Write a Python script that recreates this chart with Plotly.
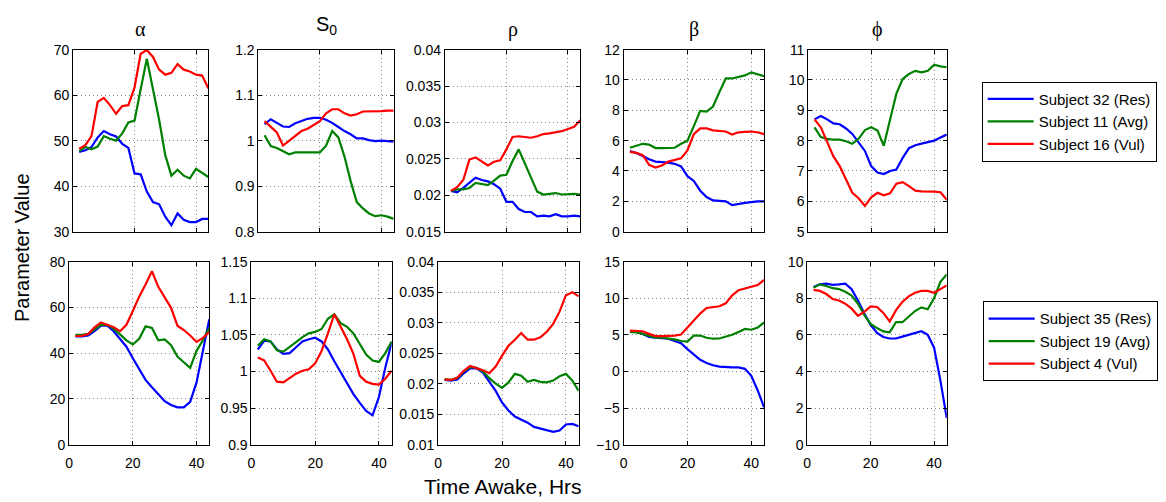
import plotly.graph_objects as go

W, H = 1166, 502

hours = [2, 4, 6, 8, 10, 12, 14, 16, 18, 20, 22, 24, 26, 28, 30, 32, 34, 36, 38, 40, 42, 44]

# ---- top row: Subject 32 (Res), Subject 11 (Avg), Subject 16 (Vul)
alpha_top_res = [47.5, 47.9, 48.6, 50.7, 52.1, 51.4, 50.9, 49.3, 48.4, 42.8, 42.6, 38.8, 36.5, 36.0, 33.3, 31.4, 34.0, 32.6, 32.1, 32.1, 32.8, 32.8]
alpha_top_avg = [47.7, 48.6, 48.1, 48.7, 51.0, 50.4, 50.0, 51.6, 54.0, 54.4, 61.3, 68.0, 61.3, 54.6, 46.8, 42.3, 43.6, 42.3, 41.7, 43.8, 42.9, 42.0]
alpha_top_vul = [48.2, 49.0, 51.0, 58.5, 59.4, 57.8, 55.9, 57.6, 57.8, 61.7, 69.1, 69.9, 68.4, 65.6, 64.5, 64.9, 66.8, 65.6, 65.2, 64.5, 64.3, 61.5]

s0_top_res = [1.036, 1.047, 1.039, 1.031, 1.030, 1.038, 1.043, 1.048, 1.050, 1.050, 1.046, 1.039, 1.030, 1.021, 1.014, 1.005, 1.005, 1.001, 0.999, 1.000, 0.999, 0.998]
s0_top_avg = [1.012, 0.988, 0.984, 0.977, 0.970, 0.974, 0.974, 0.973, 0.973, 0.974, 0.989, 1.021, 1.007, 0.965, 0.911, 0.865, 0.851, 0.840, 0.834, 0.836, 0.833, 0.828]
s0_top_vul = [1.043, 1.030, 1.018, 0.989, 1.000, 1.011, 1.021, 1.026, 1.034, 1.043, 1.060, 1.069, 1.069, 1.060, 1.055, 1.058, 1.064, 1.064, 1.065, 1.065, 1.066, 1.066]

rho_top_res = [0.0206, 0.0204, 0.0210, 0.0217, 0.0224, 0.0221, 0.0219, 0.0215, 0.0209, 0.0191, 0.0191, 0.0181, 0.0177, 0.0177, 0.0171, 0.0172, 0.0171, 0.0174, 0.0171, 0.0171, 0.0172, 0.0171]
rho_top_avg = [0.0206, 0.0208, 0.0208, 0.0210, 0.0217, 0.0215, 0.0214, 0.0220, 0.0227, 0.0228, 0.0247, 0.0263, 0.0243, 0.0223, 0.0205, 0.0201, 0.0202, 0.0203, 0.0201, 0.0202, 0.0202, 0.0201]
rho_top_vul = [0.0206, 0.0211, 0.0221, 0.0249, 0.0252, 0.0246, 0.0241, 0.0246, 0.0248, 0.0263, 0.0280, 0.0281, 0.0280, 0.0279, 0.0281, 0.0284, 0.0285, 0.0286, 0.0288, 0.0291, 0.0294, 0.0303]

beta_top_res = [5.32, 5.19, 4.98, 4.77, 4.62, 4.60, 4.55, 4.47, 4.30, 3.66, 3.34, 2.70, 2.28, 2.06, 2.02, 2.00, 1.75, 1.85, 1.90, 1.95, 2.00, 2.00]
beta_top_avg = [5.53, 5.68, 5.79, 5.74, 5.51, 5.51, 5.51, 5.53, 5.79, 6.00, 6.96, 7.96, 7.91, 8.25, 9.20, 10.10, 10.10, 10.20, 10.30, 10.50, 10.40, 10.25]
beta_top_vul = [5.26, 5.19, 5.04, 4.40, 4.23, 4.36, 4.62, 4.72, 4.83, 5.36, 6.43, 6.81, 6.81, 6.68, 6.65, 6.60, 6.40, 6.55, 6.58, 6.60, 6.55, 6.43]

phi_top_res = [8.70, 8.81, 8.70, 8.57, 8.54, 8.40, 8.22, 7.96, 7.66, 7.16, 6.95, 6.90, 7.00, 7.05, 7.43, 7.75, 7.85, 7.90, 7.95, 8.00, 8.10, 8.20]
phi_top_avg = [8.44, 8.12, 8.06, 8.03, 8.03, 7.98, 7.90, 8.06, 8.35, 8.44, 8.33, 7.83, 8.70, 9.55, 10.03, 10.20, 10.30, 10.25, 10.30, 10.50, 10.45, 10.42]
phi_top_vul = [8.70, 8.44, 7.96, 7.48, 7.16, 6.73, 6.28, 6.10, 5.85, 6.13, 6.28, 6.20, 6.26, 6.58, 6.63, 6.50, 6.35, 6.33, 6.33, 6.32, 6.30, 6.05]

# ---- bottom row: Subject 35 (Res), Subject 19 (Avg), Subject 4 (Vul)
alpha_bot_res = [47.3, 47.3, 47.7, 49.6, 52.0, 52.0, 49.6, 46.3, 42.8, 37.8, 32.9, 28.3, 25.1, 22.2, 19.0, 17.3, 16.3, 16.3, 18.7, 27.2, 40.7, 54.8]
alpha_bot_avg = [48.0, 48.0, 48.4, 50.6, 52.4, 52.4, 50.6, 48.2, 45.6, 43.8, 46.3, 51.7, 51.0, 45.6, 46.0, 43.5, 38.5, 36.0, 33.6, 41.0, 45.6, 51.0]
alpha_bot_vul = [47.5, 47.5, 48.4, 51.3, 53.4, 52.4, 51.3, 49.6, 52.4, 58.4, 64.7, 70.0, 75.8, 69.0, 64.7, 59.8, 52.0, 50.1, 47.7, 44.9, 46.7, 49.2]

s0_bot_res = [1.030, 1.042, 1.041, 1.030, 1.024, 1.025, 1.033, 1.041, 1.044, 1.046, 1.041, 1.030, 1.014, 0.999, 0.984, 0.969, 0.957, 0.946, 0.940, 0.965, 1.005, 1.040]
s0_bot_avg = [1.035, 1.044, 1.041, 1.029, 1.027, 1.033, 1.040, 1.047, 1.052, 1.054, 1.058, 1.072, 1.078, 1.066, 1.061, 1.052, 1.037, 1.023, 1.015, 1.013, 1.025, 1.041]
s0_bot_vul = [1.019, 1.015, 1.001, 0.986, 0.985, 0.991, 0.997, 1.001, 1.003, 1.011, 1.028, 1.052, 1.078, 1.061, 1.044, 1.024, 0.994, 0.986, 0.983, 0.982, 0.990, 1.001]

rho_bot_res = [0.0206, 0.0205, 0.0207, 0.0217, 0.0225, 0.0225, 0.0218, 0.0204, 0.0188, 0.0169, 0.0156, 0.0146, 0.0141, 0.0136, 0.0129, 0.0126, 0.0123, 0.0121, 0.0123, 0.0133, 0.0134, 0.0130]
rho_bot_avg = [0.0207, 0.0206, 0.0209, 0.0220, 0.0227, 0.0226, 0.0220, 0.0209, 0.0200, 0.0193, 0.0202, 0.0216, 0.0213, 0.0203, 0.0206, 0.0203, 0.0202, 0.0205, 0.0212, 0.0216, 0.0205, 0.0188]
rho_bot_vul = [0.0207, 0.0206, 0.0210, 0.0221, 0.0229, 0.0226, 0.0222, 0.0217, 0.0228, 0.0246, 0.0262, 0.0272, 0.0283, 0.0272, 0.0272, 0.0276, 0.0285, 0.0298, 0.0318, 0.0345, 0.0350, 0.0343]

beta_bot_res = [5.49, 5.40, 5.13, 4.73, 4.60, 4.51, 4.47, 4.16, 3.85, 3.05, 2.26, 1.60, 1.15, 0.84, 0.65, 0.55, 0.55, 0.55, 0.35, -0.60, -2.60, -4.90]
beta_bot_avg = [5.40, 5.35, 5.13, 4.82, 4.60, 4.60, 4.51, 4.38, 4.16, 4.07, 4.90, 4.90, 4.60, 4.47, 4.50, 4.70, 5.00, 5.40, 5.80, 5.70, 6.00, 6.70]
beta_bot_vul = [5.58, 5.58, 5.49, 5.13, 4.82, 4.82, 4.82, 4.90, 5.04, 6.00, 7.00, 7.90, 8.67, 8.80, 8.90, 9.30, 10.40, 11.10, 11.35, 11.50, 11.80, 12.50]

phi_bot_res = [8.62, 8.76, 8.80, 8.73, 8.76, 8.80, 8.50, 7.88, 7.17, 6.55, 6.10, 5.88, 5.80, 5.80, 5.90, 6.00, 6.10, 6.20, 6.00, 5.30, 3.50, 1.45]
phi_bot_avg = [8.58, 8.76, 8.67, 8.55, 8.50, 8.35, 8.14, 7.70, 7.08, 6.60, 6.37, 6.19, 6.14, 6.69, 6.69, 7.00, 7.30, 7.50, 7.40, 8.00, 8.90, 9.30]
phi_bot_vul = [8.46, 8.40, 8.23, 7.96, 7.88, 7.70, 7.43, 7.04, 7.26, 7.56, 7.52, 7.20, 6.73, 7.35, 7.80, 8.10, 8.30, 8.40, 8.40, 8.30, 8.50, 8.70]

titles = ["α", "S<sub>0</sub>", "ρ", "β", "ϕ"]
top_names = ["Subject 32 (Res)", "Subject 11 (Avg)", "Subject 16 (Vul)"]
bot_names = ["Subject 35 (Res)", "Subject 19 (Avg)", "Subject 4 (Vul)"]
colors = ["#0000FF", "#008000", "#FF0000"]

top_series = [
    (alpha_top_res, alpha_top_avg, alpha_top_vul),
    (s0_top_res, s0_top_avg, s0_top_vul),
    (rho_top_res, rho_top_avg, rho_top_vul),
    (beta_top_res, beta_top_avg, beta_top_vul),
    (phi_top_res, phi_top_avg, phi_top_vul),
]
bot_series = [
    (alpha_bot_res, alpha_bot_avg, alpha_bot_vul),
    (s0_bot_res, s0_bot_avg, s0_bot_vul),
    (rho_bot_res, rho_bot_avg, rho_bot_vul),
    (beta_bot_res, beta_bot_avg, beta_bot_vul),
    (phi_bot_res, phi_bot_avg, phi_bot_vul),
]

top_yrange = [(30, 70, 10), (0.8, 1.2, 0.1), (0.015, 0.04, 0.005), (0, 12, 2), (5, 11, 1)]
bot_yrange = [(0, 80, 20), (0.9, 1.15, 0.05), (0.01, 0.04, 0.005), (-10, 15, 5), (0, 10, 2)]

# pixel geometry of the panels
top_x = [(69.3, 205), (255.3, 391), (442.3, 578.3), (621.7, 762.7), (807, 946)]
bot_x = [(65.3, 206), (248.3, 389), (435.7, 576.7), (621.7, 762.7), (806, 946)]
top_y = (43, 231)
bot_y = (262, 451)

FONT = "Liberation Sans, Arial, Helvetica, sans-serif"

fig = go.Figure()
layout = dict(
    width=W, height=H,
    margin=dict(l=0, r=0, t=0, b=0),
    paper_bgcolor="white", plot_bgcolor="white",
    font=dict(family=FONT, size=14, color="black"),
    showlegend=True,
)

axis_common = dict(
    showline=True, linecolor="black", linewidth=1, mirror="ticks",
    ticks="inside", ticklen=4, tickcolor="black", tickwidth=1,
    showgrid=True, gridcolor="#8a8a8a", griddash="1px,3px", gridwidth=1,
    zeroline=False,
    tickfont=dict(family=FONT, size=14, color="black"),
)

idx = 0
for row, (series, names, xs, ys, yr, leg) in enumerate([
    (top_series, top_names, top_x, top_y, top_yrange, "legend"),
    (bot_series, bot_names, bot_x, bot_y, bot_yrange, "legend2"),
]):
    for col in range(5):
        idx += 1
        xa = "x" if idx == 1 else f"x{idx}"
        ya = "y" if idx == 1 else f"y{idx}"
        for k in range(3):
            fig.add_trace(go.Scatter(
                x=hours, y=series[col][k], mode="lines",
                line=dict(color=colors[k], width=2.2),
                name=names[k], legend=leg,
                showlegend=(col == 0),
                xaxis=xa, yaxis=ya,
            ))
        x0, x1 = xs[col]
        y0, y1 = ys
        layout["xaxis" if idx == 1 else f"xaxis{idx}"] = dict(
            axis_common, domain=[x0 / W, x1 / W], range=[0, 44],
            tickmode="array", tickvals=[0, 20, 40],
            showticklabels=(row == 1), anchor=ya, ticklabelstandoff=6,
        )
        lo, hi, dt = yr[col]
        layout["yaxis" if idx == 1 else f"yaxis{idx}"] = dict(
            axis_common, domain=[1 - y1 / H, 1 - y0 / H], range=[lo, hi],
            tick0=lo, dtick=dt, anchor=xa,
        )

annotations = []
for col in range(5):
    x0, x1 = top_x[col]
    fam = FONT if col == 1 else "Liberation Serif, DejaVu Serif, serif"
    top_px = 3 if col == 1 else 8
    annotations.append(dict(
        text=titles[col], x=(x0 + x1) / 2 / W, y=1 - top_px / H,
        xref="paper", yref="paper", showarrow=False,
        xanchor="center", yanchor="top",
        font=dict(family=fam, size=20, color="black"),
    ))
annotations.append(dict(
    text="Parameter Value", x=18 / W, y=1 - 247 / H, xref="paper", yref="paper",
    showarrow=False, textangle=-90, xanchor="center", yanchor="middle",
    font=dict(family=FONT, size=20, color="black"),
))
annotations.append(dict(
    text="Time Awake, Hrs", x=501 / W, y=1 - 494 / H, xref="paper", yref="paper",
    showarrow=False, xanchor="center", yanchor="middle",
    font=dict(family=FONT, size=21, color="black"),
))
layout["annotations"] = annotations

leg_common = dict(
    xanchor="left", yanchor="top", bordercolor="black", borderwidth=1,
    bgcolor="white", font=dict(family=FONT, size=15, color="black"),
    itemwidth=46,
)
layout["legend"] = dict(leg_common, x=981 / W, y=1 - 76 / H)
layout["legend2"] = dict(leg_common, x=982 / W, y=1 - 303 / H)

fig.update_layout(**layout)
fig.write_html("out.html")
